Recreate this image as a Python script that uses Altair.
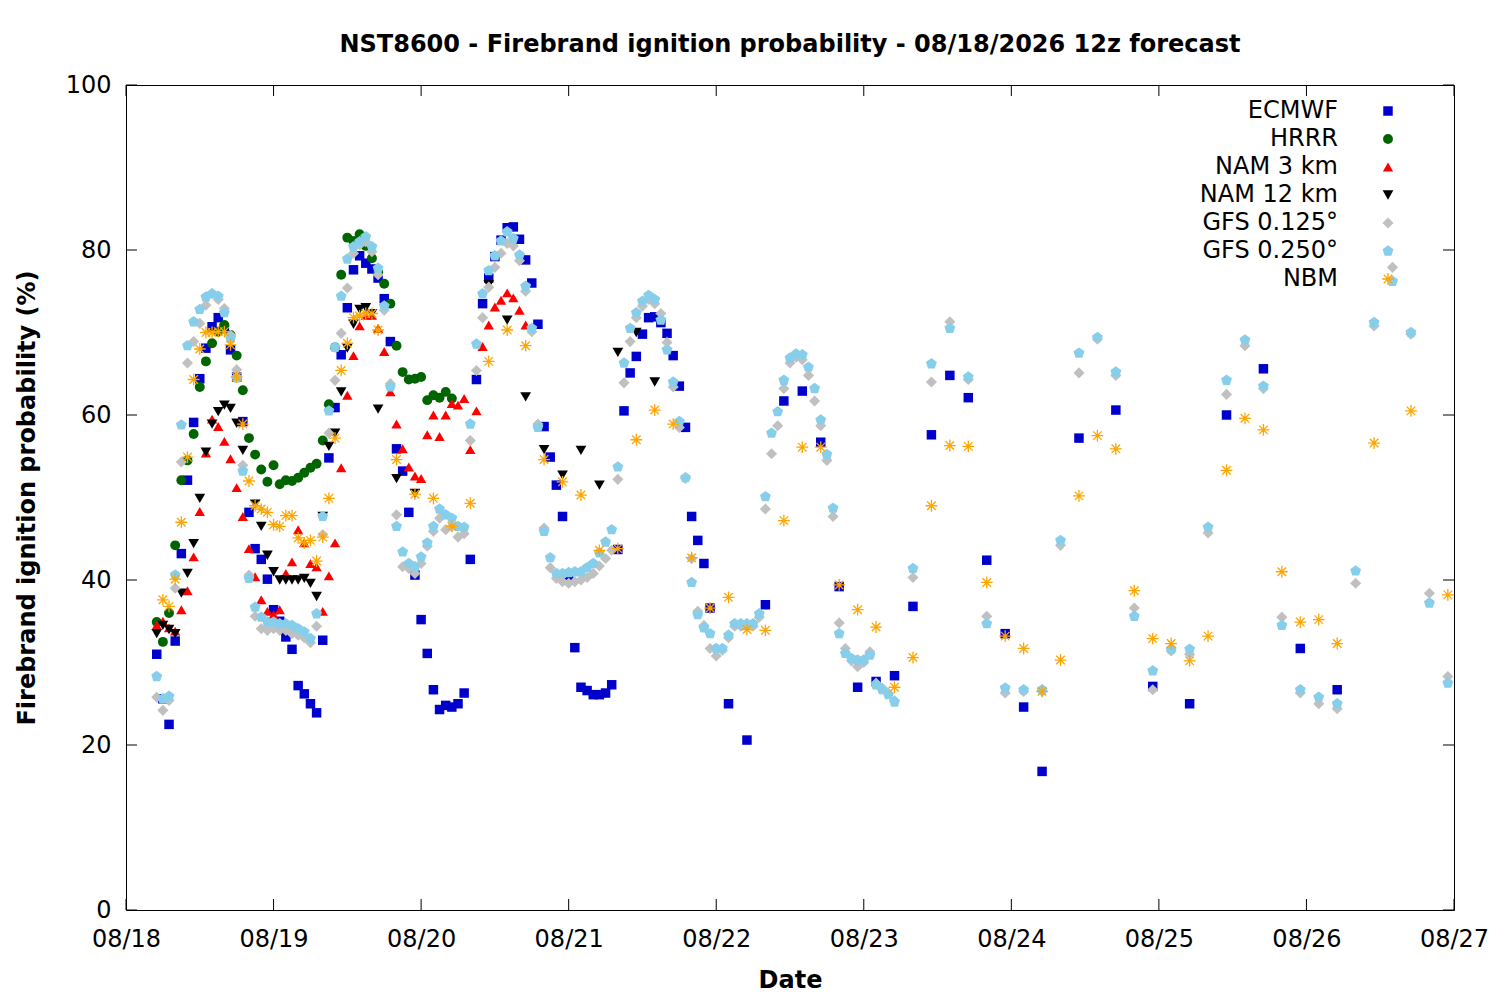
import altair as alt
import pandas as pd

# ---------------- data (hours since 08/18 00, probability %) ----------------
ECMWF_HOURS = list(range(5, 96)) + list(range(98, 150, 3)) + list(range(155, 198, 6))
ECMWF_VALUES = [
    31.0, 25.6, 22.5, 32.6, 43.2, 52.1, 59.1, 64.4, 68.1, 70.7,
    71.8, 70.5, 67.9, 64.6, 59.2, 48.2, 43.8, 42.5, 40.1, 36.4,
    35.0, 33.1, 31.6, 27.2, 26.2, 25.0, 23.9, 32.7, 54.8, 60.9,
    67.3, 73.0, 77.6, 79.3, 78.4, 77.7, 76.6, 74.1, 68.9, 55.9,
    53.2, 48.2, 40.6, 35.2, 31.1, 26.7, 24.3, 24.8, 24.6, 25.0,
    26.3, 42.5, 64.3, 73.5, 76.6, 79.2, 81.2, 82.7, 82.8, 81.3,
    78.8, 76.0, 71.0, 58.6, 54.9, 51.5, 47.7, 40.2, 31.8, 27.0,
    26.6, 26.1, 26.1, 26.3, 27.3, 43.7, 60.5, 65.1, 67.1, 69.8,
    71.8, 71.9, 71.2, 69.9, 67.2, 63.5, 58.5, 47.7, 44.8, 42.0,
    36.6,
    25.0, 20.6, 37.0, 61.7, 62.9, 56.7, 39.2, 27.0, 27.7, 28.4,
    36.8, 57.6, 64.8, 62.1, 42.4, 33.5, 24.6, 16.8,
    57.2, 60.6, 27.1, 25.0, 60.0, 65.6, 31.7, 26.7,
]

HRRR_HOURS = list(range(5, 54))
HRRR_VALUES = [
    34.9, 32.5, 36.0, 44.2, 52.1, 54.5, 57.7, 63.4, 66.5, 68.7,
    70.1, 70.9, 69.7, 67.2, 63.0, 57.2, 55.2, 53.4, 51.9, 53.9,
    51.6, 52.1, 52.0, 52.4, 53.0, 53.6, 54.1, 56.9, 61.3, 68.2,
    77.0, 81.5, 81.1, 81.9, 80.5, 79.0, 77.3, 75.9, 73.5, 68.4,
    65.2, 64.3, 64.4, 64.6, 61.8, 62.4, 62.1, 62.8, 62.0,
]

NAM3_HOURS = list(range(5, 66))
NAM3_VALUES = [
    34.5, 35.0, 34.2, 33.8, 36.4, 38.7, 42.8, 48.3, 55.4, 59.5,
    58.6, 56.8, 54.7, 51.2, 47.7, 43.8, 40.4, 37.6, 36.2, 35.8,
    36.4, 40.8, 42.2, 46.1, 44.5, 42.0, 41.6, 36.2, 40.5, 44.5,
    53.6, 62.4, 67.2, 70.8, 72.1, 72.1, 70.5, 67.7, 62.8, 58.9,
    55.9, 53.7, 52.6, 52.3, 57.6, 60.0, 57.4, 60.0, 61.4, 61.2,
    62.0, 55.8, 60.5, 68.3, 70.9, 73.1, 73.9, 74.8, 74.2, 72.7,
    70.9,
]

NAM12_HOURS = (list(range(5, 20)) + list(range(21, 41))
               + [41, 44, 47, 59, 62, 65, 68, 71, 74, 77, 80, 83, 86])
NAM12_VALUES = [
    33.5, 34.5, 34.0, 33.5, 38.4, 40.8, 44.4, 49.9, 55.5, 58.9,
    60.4, 61.2, 60.8, 59.0, 55.7,
    49.2, 46.5, 43.0, 41.0, 40.0, 40.0, 40.0, 40.0, 40.2, 39.6,
    38.0, 47.7, 56.2, 57.8, 62.8, 68.1, 71.0, 72.8, 73.0, 72.3,
    60.7, 52.3, 50.5, 75.8, 71.5, 62.2, 55.8, 52.7, 55.7, 51.5,
    67.6, 70.0, 64.0,
]

GFS125_HOURS = list(range(5, 126)) + list(range(128, 216, 3))
GFS125_VALUES = [
    25.8, 24.2, 25.4, 39.0, 54.3, 66.3, 68.9, 71.1, 73.3, 74.7,
    74.0, 72.9, 69.7, 65.5, 53.9, 40.6, 35.6, 34.1, 33.9, 34.1,
    33.9, 33.9, 33.5, 33.3, 33.0, 32.4, 34.4, 45.5, 57.8, 64.2,
    69.9, 75.4, 79.6, 80.6, 81.0, 79.8, 77.0, 72.7, 63.8, 47.9,
    41.6, 41.4, 40.8, 42.0, 44.1, 45.9, 47.5, 46.1, 46.5, 45.2,
    45.6, 56.9, 65.4, 71.8, 75.5, 77.9, 79.6, 80.8, 80.5, 78.7,
    75.0, 70.1, 58.9, 46.3, 41.5, 40.2, 39.8, 39.6, 39.8, 40.0,
    40.3, 40.8, 41.7, 42.6, 43.6, 52.2, 63.9, 68.9, 71.8, 73.2,
    74.0, 73.5, 72.3, 68.8, 63.4, 58.5, 52.3, 42.6, 36.2, 34.5,
    31.7, 30.8, 31.5, 33.0, 34.4, 34.4, 34.4, 34.4, 35.5, 48.6,
    55.3, 58.7, 63.2, 66.3, 67.0, 66.7, 64.8, 61.7, 58.7, 54.5,
    47.7, 34.8, 31.7, 30.2, 29.5, 30.0, 31.3, 27.5, 26.9, 26.3, 25.4,
    40.3, 64.0, 71.3, 64.3, 35.6, 26.3, 26.5, 26.5, 44.2, 65.1,
    69.2, 64.8, 36.6, 26.7, 31.4, 31.0, 45.7, 62.5, 68.4, 63.2,
    35.5, 26.3, 25.0, 24.4, 39.6, 70.8, 77.9, 69.8, 38.4, 28.3,
]

GFS250_HOURS = list(range(5, 126)) + list(range(128, 216, 3))
GFS250_VALUES = [
    28.3, 25.6, 25.9, 40.6, 58.8, 68.4, 71.3, 72.8, 74.3, 74.7,
    74.4, 72.4, 69.3, 64.5, 53.2, 40.2, 36.7, 35.5, 34.9, 34.9,
    34.7, 34.7, 34.5, 34.1, 33.7, 32.9, 35.9, 47.7, 60.5, 68.2,
    74.4, 78.9, 80.4, 81.0, 81.6, 80.4, 77.8, 73.2, 63.4, 46.5,
    43.4, 42.0, 41.6, 42.8, 44.5, 46.5, 48.6, 47.9, 47.5, 46.5,
    46.4, 58.9, 68.6, 74.7, 77.5, 79.3, 81.1, 82.2, 81.4, 79.4,
    75.6, 70.5, 58.5, 45.9, 42.7, 40.8, 40.8, 40.9, 41.0, 41.0,
    41.5, 42.0, 43.3, 44.6, 46.1, 53.7, 66.3, 70.5, 72.4, 73.8,
    74.5, 74.0, 71.5, 67.9, 64.0, 59.2, 52.4, 39.7, 35.8, 34.2,
    33.5, 31.7, 31.7, 33.3, 34.7, 34.7, 34.7, 34.7, 35.9, 50.1,
    57.8, 60.4, 64.2, 66.9, 67.4, 67.3, 65.8, 63.2, 59.4, 55.2,
    48.7, 33.5, 31.1, 30.5, 30.3, 30.3, 30.9, 27.3, 26.7, 26.1, 25.2,
    41.4, 66.2, 70.5, 64.6, 34.7, 26.9, 26.7, 26.7, 44.8, 67.5,
    69.4, 65.2, 35.6, 29.0, 31.6, 31.6, 46.4, 64.2, 69.1, 63.5,
    34.5, 26.7, 25.8, 25.0, 41.1, 71.2, 76.2, 70.0, 37.2, 27.5,
]

NBM_HOURS = list(range(6, 42)) + list(range(44, 198, 3)) + [203, 209, 215]
NBM_VALUES = [
    37.6, 36.8, 40.1, 47.0, 54.9, 64.3, 68.0, 70.0, 70.0, 70.1,
    70.1, 68.5, 64.6, 58.9, 52.0, 49.0, 48.6, 48.2, 46.7, 46.5,
    47.8, 47.8, 45.1, 44.5, 44.8, 42.3, 45.2, 49.9, 57.2, 65.4,
    68.7, 71.8, 72.0, 72.3, 72.3, 70.3,
    54.6, 50.4, 49.9, 46.5, 49.3, 66.5, 70.3, 68.4, 54.6, 51.9,
    50.3, 43.6, 43.8, 57.0, 60.6, 58.9, 42.7, 36.6, 37.9, 34.0,
    33.9, 47.2, 56.1, 56.1, 39.4, 36.4, 34.3, 27.0, 30.6, 49.0,
    56.3, 56.2, 39.7, 33.2, 31.7, 26.5, 30.3, 50.2, 57.5, 55.9,
    38.7, 32.9, 32.3, 30.2, 33.2, 53.3, 59.6, 58.2, 41.0, 34.9,
    35.2, 32.3,
    56.6, 60.5, 38.2,
]

MODELS = ["ECMWF", "HRRR", "NAM 3 km", "NAM 12 km", "GFS 0.125°", "GFS 0.250°", "NBM"]
SERIES = [
    (ECMWF_HOURS, ECMWF_VALUES),
    (HRRR_HOURS, HRRR_VALUES),
    (NAM3_HOURS, NAM3_VALUES),
    (NAM12_HOURS, NAM12_VALUES),
    (GFS125_HOURS, GFS125_VALUES),
    (GFS250_HOURS, GFS250_VALUES),
    (NBM_HOURS, NBM_VALUES),
]

X_TICKS = list(range(0, 217, 24))
Y_TICKS = [0, 20, 40, 60, 80, 100]

# ---------------- styles ----------------
FILLS = ["#0000cd", "#006400", "#ff0000", "#000000", "#c0c0c0", "#87ceeb", "transparent"]
STROKES = ["transparent"] * 6 + ["#ffa500"]
PENTAGON = "M0,-1L0.951,-0.309L0.588,0.809L-0.588,0.809L-0.951,-0.309Z"
STAR = "M-1,0L1,0M0,-1L0,1M-0.72,-0.72L0.72,0.72M-0.72,0.72L0.72,-0.72"
SHAPES = ["square", "circle", "triangle-up", "triangle-down", "diamond", PENTAGON, STAR]
SIZES = [90, 140, 170, 170, 110, 180, 210]

W, H = 1328, 825

frames = []
for name, (hrs, vals) in zip(MODELS, SERIES):
    assert len(hrs) == len(vals), (name, len(hrs), len(vals))
    frames.append(pd.DataFrame({"h": hrs, "v": vals, "model": name}))
df = pd.concat(frames, ignore_index=True)

xscale = alt.Scale(domain=[0, 216], nice=False, zero=False)
yscale = alt.Scale(domain=[0, 100], nice=False, zero=False)

x_axis = alt.Axis(
    values=X_TICKS, labelExpr="'08/' + (18 + datum.value / 24)",
    title="Date", ticks=False, grid=False, domain=False,
    labelPadding=17, labelFlush=False, labelOverlap=False,
    titleX=W / 2, titleY=70, titleBaseline="middle",
)
y_axis = alt.Axis(
    values=Y_TICKS, title="Firebrand ignition probability (%)",
    ticks=False, grid=False, domain=False, labelPadding=15,
    labelFlush=False, labelOverlap=False,
    titleX=-99, titleY=H / 2, titleBaseline="middle", titleAngle=270,
)

points = alt.Chart(df).mark_point(filled=True, opacity=1, strokeWidth=1.3).encode(
    x=alt.X("h:Q", scale=xscale, axis=x_axis),
    y=alt.Y("v:Q", scale=yscale, axis=y_axis),
    fill=alt.Fill("model:N", title=None,
                  scale=alt.Scale(domain=MODELS, range=FILLS)),
    stroke=alt.Stroke("model:N", title=None,
                      scale=alt.Scale(domain=MODELS, range=STROKES)),
    shape=alt.Shape("model:N", title=None,
                    scale=alt.Scale(domain=MODELS, range=SHAPES)),
    size=alt.Size("model:N", title=None,
                  scale=alt.Scale(domain=MODELS, range=SIZES)),
)

xt = pd.DataFrame({"h": X_TICKS})
yt = pd.DataFrame({"v": Y_TICKS})
TICK = 11

tick_bottom = alt.Chart(xt).mark_rule(color="black", strokeWidth=1).encode(
    x=alt.X("h:Q", scale=xscale), y=alt.value(H), y2=alt.value(H - TICK))
tick_top = alt.Chart(xt).mark_rule(color="black", strokeWidth=1).encode(
    x=alt.X("h:Q", scale=xscale), y=alt.value(0), y2=alt.value(TICK))
tick_left = alt.Chart(yt).mark_rule(color="black", strokeWidth=1).encode(
    y=alt.Y("v:Q", scale=yscale), x=alt.value(0), x2=alt.value(TICK))
tick_right = alt.Chart(yt).mark_rule(color="black", strokeWidth=1).encode(
    y=alt.Y("v:Q", scale=yscale), x=alt.value(W - TICK), x2=alt.value(W))

chart = alt.layer(tick_bottom, tick_top, tick_left, tick_right, points).properties(
    width=W, height=H,
    title=alt.TitleParams(
        "NST8600 - Firebrand ignition probability - 08/18/2026 12z forecast",
        fontSize=24, fontWeight="bold", font="DejaVu Sans", color="black",
        anchor="middle", offset=16,
    ),
    autosize="none",
    padding={"left": 118, "top": 77, "right": 38, "bottom": 82},
).configure(
    font="DejaVu Sans",
).configure_view(
    stroke="black", strokeWidth=1,
).configure_axis(
    labelFontSize=24, labelColor="black", labelFont="DejaVu Sans",
    titleFontSize=24, titleFontWeight="bold", titleColor="black",
    titleFont="DejaVu Sans",
).configure_legend(
    orient="none", legendX=1250, legendY=14,
    labelAlign="right", labelOffset={"expr": "-62"}, labelFontSize=24,
    labelFont="DejaVu Sans", labelColor="black", labelLimit=400,
    rowPadding=4, padding=0, symbolStrokeWidth=1.3,
)

chart.save("out.html", embed_options={"renderer": "svg", "actions": False})
